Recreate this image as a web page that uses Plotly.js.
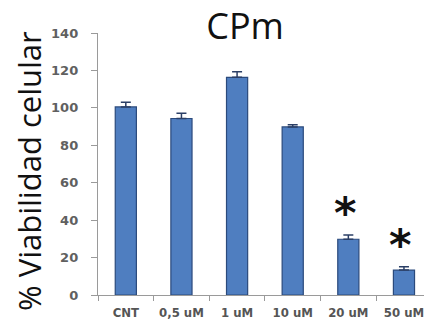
<!DOCTYPE html>
<html>
<head>
<meta charset="utf-8">
<script src="https://cdn.plot.ly/plotly-3.0.1.min.js"></script>
<style>html,body{margin:0;padding:0;background:#fff;}#chart{width:424px;height:331px;}</style>
</head>
<body>
<div id="chart"></div>
<script>
const categories = ["CNT", "0,5 uM", "1 uM", "10 uM", "20 uM", "50 uM"];
const viability = [100.5, 94.3, 116.3, 89.8, 29.8, 13.3];
const errorUp = [2.5, 2.8, 3.0, 1.2, 2.2, 1.8];
const significant = [false, false, false, false, true, true];
const yTicks = [0, 20, 40, 60, 80, 100, 120, 140];
const yTitle = '% Viabilidad celular';

const annotations = [];
categories.forEach((c, i) => {
  if (significant[i]) {
    annotations.push({
      x: c, y: viability[i] + errorUp[i], xref: 'x', yref: 'y',
      text: '<b>*</b>', showarrow: false, yanchor: 'bottom', yshift: -5, xshift: -3,
      font: {family: 'DejaVu Sans', size: 43, color: '#111'}
    });
  }
});
annotations.push({
  text: yTitle, xref: 'paper', yref: 'paper', x: -0.212, y: 0.473,
  xanchor: 'center', yanchor: 'middle', textangle: -90, showarrow: false,
  font: {family: 'Open Sans', size: 31, color: '#111'}
});

const trace = {
  type: 'bar',
  x: categories,
  y: viability,
  marker: {color: '#4f7ec0', line: {color: '#2b4a7c', width: 1.2}},
  error_y: {type: 'data', symmetric: false, array: errorUp, arrayminus: errorUp.map(() => 0),
            color: '#2b3f66', thickness: 1.5, width: 5},
  hoverinfo: 'none'
};

const layout = {
  width: 424, height: 331,
  margin: {l: 98, r: 0, t: 33, b: 36, pad: 0},
  paper_bgcolor: '#fff', plot_bgcolor: '#fff',
  bargap: 0.62,
  showlegend: false,
  title: {text: 'CPm', font: {family: 'Open Sans', size: 36, color: '#111'},
          x: 0.578, xanchor: 'center', y: 0.92, yanchor: 'middle'},
  xaxis: {
    type: 'category', range: [-0.5, 5.36],
    showline: true, linecolor: '#9a9a9a', linewidth: 1.2,
    ticks: 'outside', tickson: 'boundaries', ticklen: 5, tickcolor: '#9a9a9a',
    ticklabelstandoff: 5,
    tickfont: {family: 'DejaVu Sans Condensed', size: 13, color: '#555', weight: 'bold'},
    showgrid: false, zeroline: false, fixedrange: true
  },
  yaxis: {
    range: [0, 140], tickvals: yTicks, ticktext: yTicks.map(String),
    showline: true, linecolor: '#9a9a9a', linewidth: 1.2,
    ticks: 'outside', ticklen: 6, tickcolor: '#9a9a9a',
    ticklabelstandoff: 10,
    tickfont: {family: 'DejaVu Sans', size: 13, color: '#606060', weight: 'bold'},
    showgrid: false, zeroline: false
  },
  annotations: annotations
};

Plotly.newPlot('chart', [trace], layout, {staticPlot: true, displayModeBar: false});
</script>
</body>
</html>
